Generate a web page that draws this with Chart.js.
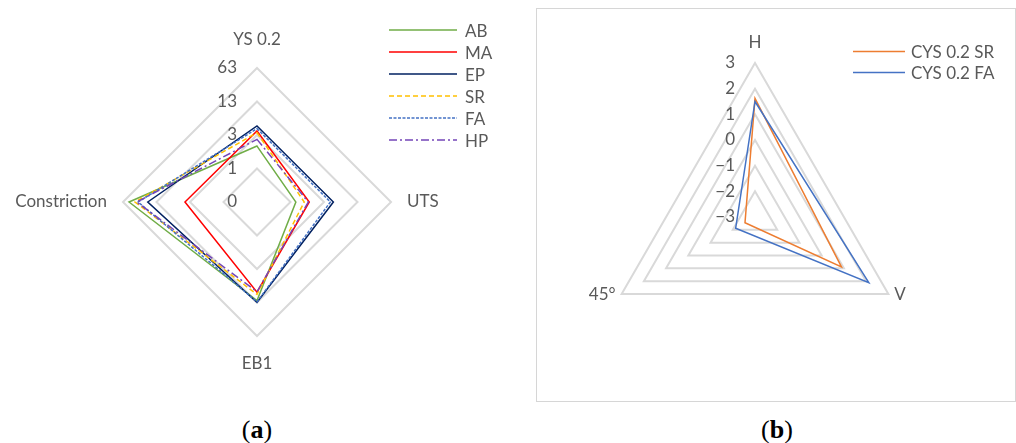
<!DOCTYPE html>
<html>
<head>
<meta charset="utf-8">
<script src="https://cdn.jsdelivr.net/npm/chart.js@4.4.1/dist/chart.umd.min.js"></script>
<style>
  html, body { margin: 0; padding: 0; background: #fff; }
  body { position: relative; width: 1016px; height: 443px; overflow: hidden; font-family: Lato, sans-serif; }
  .abs { position: absolute; }
  #boxB { left: 536px; top: 8px; width: 480px; height: 394px; box-sizing: border-box; border: 1px solid #d6d6d6; }
  .legend { position: absolute; color: #595959; font: 17px Lato, sans-serif; }
  .legend .row { display: flex; align-items: center; white-space: nowrap; }
  .legend svg { display: block; flex: none; }
  .caption { position: absolute; width: 100px; text-align: center; font: 26px "Liberation Serif", serif; line-height: 26px; color: #000; }
  .caption b { font-weight: bold; }
</style>
</head>
<body>
<div id="boxB" class="abs"></div>
<canvas id="chartA" class="abs" width="530" height="405" style="left:0;top:0"></canvas>
<canvas id="chartB" class="abs" width="476" height="392" style="left:538px;top:9px"></canvas>
<div id="legendA" class="legend" style="left:389px;top:19px"></div>
<div id="legendB" class="legend" style="left:853px;top:41px"></div>
<div class="caption" style="left:207px;top:417px">(<b>a</b>)</div>
<div class="caption" style="left:727px;top:417px">(<b>b</b>)</div>
<script>
// ---- Panel (a): tensile properties, compressed radial scale ----
const axesA = ['YS 0.2', 'UTS', 'EB1', 'Constriction'];
const ringTextA = ['0', '1', '3', '13', '63'];
const seriesA = ['AB', 'MA', 'EP', 'SR', 'FA', 'HP'];
const valuesAB = [1.67, 1.16, 2.94, 3.82];
const valuesMA = [2.12, 1.56, 2.69, 2.15];
const valuesEP = [2.27, 2.28, 3.00, 3.26];
const valuesSR = [2.07, 1.41, 2.76, 3.64];
const valuesFA = [2.19, 2.19, 2.98, 3.55];
const valuesHP = [1.87, 1.53, 2.68, 3.59];

// ---- Panel (b): compressive yield strength by direction ----
const axesB = ['H', 'V', '45°'];
const seriesB = ['CYS 0.2 SR', 'CYS 0.2 FA'];
const cysSR = [1.62, 0.89, -2.55];
const cysFA = [1.50, 2.12, -2.13];

const stylesA = [
  { color: '#70AD47', dash: [] },
  { color: '#FF0000', dash: [] },
  { color: '#002060', dash: [] },
  { color: '#FFC000', dash: [5, 3] },
  { color: '#4472C4', dash: [3, 1.5] },
  { color: '#7446B8', dash: [8, 3, 2, 3] }
];
const stylesB = [
  { color: '#ED7D31', dash: [] },
  { color: '#4472C4', dash: [] }
];

const LABEL_FONT = '17px Lato, sans-serif';

// Ring values beside the vertical axis and category names outside the outer ring
const axisText = {
  id: 'axisText',
  beforeDatasetsDraw(chart, args, o) {
    const s = chart.scales.r, ctx = chart.ctx;
    ctx.save();
    ctx.font = o.font;
    ctx.fillStyle = o.color;
    ctx.textAlign = 'right';
    ctx.textBaseline = 'middle';
    s.ticks.forEach(t => {
      const d = s.getDistanceFromCenterForValue(t.value);
      ctx.fillText(t.label, s.xCenter - o.tickGap, s.yCenter - d);
    });
    ctx.restore();
  },
  afterDraw(chart, args, o) {
    const s = chart.scales.r, ctx = chart.ctx;
    ctx.save();
    ctx.font = o.font;
    ctx.fillStyle = o.color;
    ctx.textBaseline = 'middle';
    chart.data.labels.forEach((text, i) => {
      const p = s.getPointPosition(i, s.drawingArea);
      const cx = Math.cos(p.angle), cy = Math.sin(p.angle);
      let x = p.x, y = p.y;
      if (Math.abs(cx) < 0.3) {
        ctx.textAlign = 'center';
        y += Math.sign(cy) * o.vOff;
      } else {
        ctx.textAlign = cx > 0 ? 'left' : 'right';
        x += Math.sign(cx) * o.hOff;
        y += o.yShift || 0;
      }
      ctx.fillText(text, x, y);
    });
    ctx.restore();
  }
};

function makeDatasets(names, values, styles) {
  return names.map((name, i) => ({
    label: name,
    data: values[i],
    borderColor: styles[i].color,
    backgroundColor: styles[i].color,
    borderDash: styles[i].dash,
    borderWidth: 1.5,
    pointRadius: 0,
    pointHoverRadius: 0,
    fill: false,
    order: names.length - i
  }));
}

function radarOptions(min, max, padding, tickFormat, textOpts) {
  return {
    responsive: false,
    animation: false,
    events: [],
    layout: { padding },
    elements: { line: { tension: 0, borderJoinStyle: 'miter' } },
    plugins: {
      legend: { display: false },
      tooltip: { enabled: false },
      axisText: textOpts
    },
    scales: {
      r: {
        min, max,
        startAngle: 0,
        ticks: { display: false, stepSize: 1, callback: tickFormat },
        grid: { color: '#d9d9d9', lineWidth: 2 },
        angleLines: { display: false },
        pointLabels: { display: false }
      }
    }
  };
}

new Chart(document.getElementById('chartA'), {
  type: 'radar',
  data: {
    labels: axesA,
    datasets: makeDatasets(seriesA, [valuesAB, valuesMA, valuesEP, valuesSR, valuesFA, valuesHP], stylesA)
  },
  options: radarOptions(0, 4, { left: 123, top: 68, right: 139, bottom: 69 },
    v => ringTextA[v],
    { font: LABEL_FONT, color: '#595959', tickGap: 20, vOff: 28, hOff: 16 }),
  plugins: [axisText]
});

new Chart(document.getElementById('chartB'), {
  type: 'radar',
  data: {
    labels: axesB,
    datasets: makeDatasets(seriesB, [cysSR, cysFA], stylesB)
  },
  options: radarOptions(-3, 3, { left: 63, top: 54, right: 105, bottom: 30 },
    v => (v < 0 ? '\u2212' : '') + Math.abs(v),
    { font: LABEL_FONT, color: '#595959', tickGap: 20, vOff: 20, hOff: 6, yShift: 1 }),
  plugins: [axisText]
});

// Legends built from the same series names and line styles
function buildLegend(el, names, styles, lineLen, gap, rowH) {
  const svgNS = 'http://www.w3.org/2000/svg';
  names.forEach((name, i) => {
    const row = document.createElement('div');
    row.className = 'row';
    row.style.height = rowH + 'px';
    const svg = document.createElementNS(svgNS, 'svg');
    svg.setAttribute('width', lineLen);
    svg.setAttribute('height', rowH);
    const ln = document.createElementNS(svgNS, 'line');
    ln.setAttribute('x1', 0);
    ln.setAttribute('x2', lineLen);
    ln.setAttribute('y1', rowH / 2);
    ln.setAttribute('y2', rowH / 2);
    ln.setAttribute('stroke', styles[i].color);
    ln.setAttribute('stroke-width', 1.5);
    if (styles[i].dash.length) ln.setAttribute('stroke-dasharray', styles[i].dash.join(' '));
    svg.appendChild(ln);
    row.appendChild(svg);
    const label = document.createElement('span');
    label.textContent = name;
    label.style.marginLeft = gap + 'px';
    row.appendChild(label);
    el.appendChild(row);
  });
}
buildLegend(document.getElementById('legendA'), seriesA, stylesA, 68, 8, 22);
buildLegend(document.getElementById('legendB'), seriesB, stylesB, 52, 6, 21);
</script>
</body>
</html>
